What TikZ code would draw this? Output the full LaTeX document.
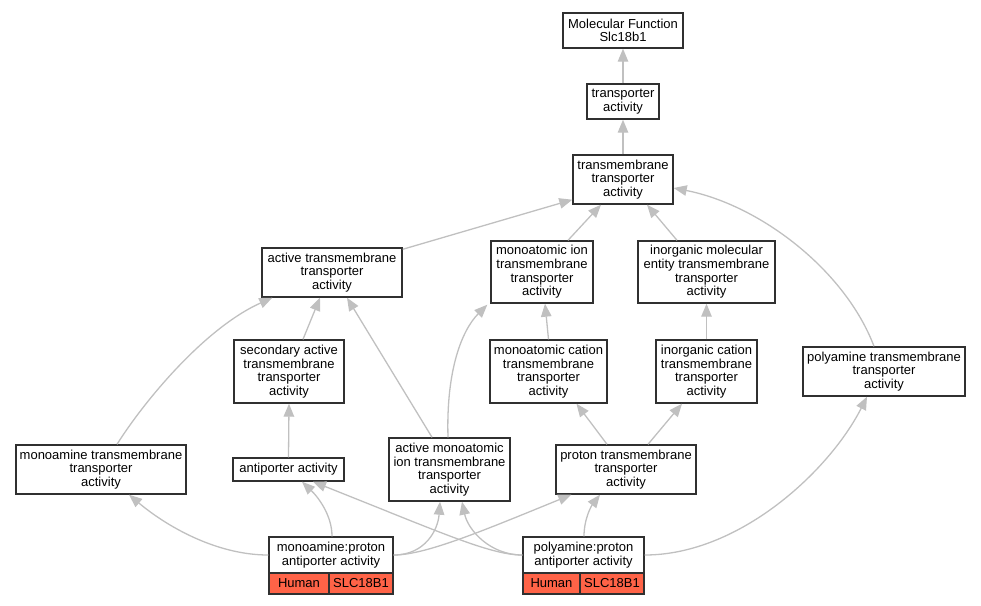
\documentclass[tikz,border=0pt]{standalone}
\usepackage{fontspec}
\setmainfont{Liberation Sans}
\usetikzlibrary{arrows.meta}
\definecolor{edgegray}{HTML}{C0C0C0}
\definecolor{tomatofill}{HTML}{FF6347}
\definecolor{borderdark}{HTML}{303030}
\begin{document}
\begin{tikzpicture}[x=1pt,y=-1pt,
  term/.style={draw=borderdark, line width=1.4pt, fill=white, align=center, inner sep=0pt,
    font=\fontsize{13}{13.6}\selectfont},
  gene/.style={term, fill=tomatofill},
  isa/.style={draw=edgegray, line width=1.3pt, -{Triangle[length=13pt,width=10.5pt]}}]
\useasboundingbox (0,0) rectangle (981,605);

\node[term, minimum width=120, minimum height=35] (mf) at (623,30.5) {Molecular Function\\Slc18b1};
\node[term, minimum width=72, minimum height=35] (tp) at (623,101.5) {transporter\\activity};
\node[term, minimum width=100, minimum height=49] (tm) at (623,179.5) {transmembrane\\transporter\\activity};
\node[term, minimum width=140, minimum height=49] (atm) at (332,272.5) {active transmembrane\\transporter\\activity};
\node[term, minimum width=102, minimum height=62] (mi) at (542,272) {monoatomic ion\\transmembrane\\transporter\\activity};
\node[term, minimum width=137, minimum height=62] (ime) at (706.5,272) {inorganic molecular\\entity transmembrane\\transporter\\activity};
\node[term, minimum width=110, minimum height=63] (sec) at (289,371.5) {secondary active\\transmembrane\\transporter\\activity};
\node[term, minimum width=117, minimum height=63] (mc) at (548.5,371.5) {monoatomic cation\\transmembrane\\transporter\\activity};
\node[term, minimum width=101, minimum height=63] (ic) at (706.5,371.5) {inorganic cation\\transmembrane\\transporter\\activity};
\node[term, minimum width=162, minimum height=49] (pt) at (884,371.5) {polyamine transmembrane\\transporter\\activity};
\node[term, minimum width=170, minimum height=49] (mt) at (101,469.5) {monoamine transmembrane\\transporter\\activity};
\node[term, minimum width=111, minimum height=23] (anti) at (288.5,469.5) {antiporter activity};
\node[term, minimum width=121, minimum height=63] (ami) at (449.5,469.5) {active monoatomic\\ion transmembrane\\transporter\\activity};
\node[term, minimum width=140, minimum height=49] (prt) at (626,469.5) {proton transmembrane\\transporter\\activity};

\node[term, minimum width=124, minimum height=36] (mp) at (331,555) {monoamine:proton\\antiporter activity};
\node[gene, minimum width=60, minimum height=21] (mph) at (299,583.5) {Human};
\node[gene, minimum width=64, minimum height=21] (mps) at (361,583.5) {SLC18B1};
\node[term, minimum width=121, minimum height=36] (pp) at (583.5,555) {polyamine:proton\\antiporter activity};
\node[gene, minimum width=57, minimum height=21] (pph) at (551.5,583.5) {Human};
\node[gene, minimum width=64, minimum height=21] (pps) at (612,583.5) {SLC18B1};

% edges
\draw[isa] (tp.north) -- (mf.south);
\draw[isa] (tm.north) -- (tp.south);
\draw[isa] ([yshift=-2pt]atm.north east) -- ([yshift=5pt]tm.south west);
\draw[isa] ([xshift=26pt]mi.north) -- ([xshift=-22pt]tm.south);
\draw[isa] ([xshift=-29.5pt]ime.north) -- ([xshift=24pt]tm.south);
\draw[isa] ([xshift=-10pt]pt.north) .. controls (845,270) and (760,205) .. ([yshift=-8.5pt]tm.east);
\draw[isa] ([xshift=14pt]sec.north) -- ([xshift=-12pt]atm.south);
\draw[isa] ([xshift=-17.5pt]ami.north) -- ([xshift=15pt]atm.south);
\draw[isa] ([xshift=-1.5pt]ami.north) .. controls (446,370) and (462,330) .. ([xshift=-3pt,yshift=-1pt]mi.south west);
\draw[isa] (mc.north) -- ([xshift=3pt]mi.south);
\draw[isa] (ic.north) -- (ime.south);
\draw[isa] (anti.north) -- (sec.south);
\draw[isa] ([xshift=-19pt]prt.north) -- ([xshift=28pt]mc.south);
\draw[isa] ([xshift=22pt]prt.north) -- ([xshift=-24.5pt]ic.south);
\draw[isa] ([xshift=16pt]mt.north) .. controls (145,400) and (205,328) .. ([xshift=11pt]atm.south west);

\draw[isa] (mp.west) .. controls (215,555) and (165,525) .. ([xshift=28pt]mt.south);
\draw[isa] ([xshift=1pt]mp.north) .. controls (332,515) and (318,497) .. ([xshift=13.5pt]anti.south);
\draw[isa] (mp.east) .. controls (425,555) and (438,530) .. ([xshift=-9.5pt]ami.south);
\draw[isa] (mp.east) .. controls (425,555) and (480,532) .. ([xshift=16pt]prt.south west);
\draw[isa] (pp.west) .. controls (490,555) and (440,532) .. ([xshift=24.5pt]anti.south);
\draw[isa] (pp.west) .. controls (490,555) and (468,530) .. ([xshift=12.5pt]ami.south);
\draw[isa] ([xshift=0.5pt]pp.north) .. controls (584,518) and (592,505) .. ([xshift=-26pt]prt.south);
\draw[isa] (pp.east) .. controls (740,555) and (830,470) .. ([xshift=-17pt]pt.south);
\end{tikzpicture}
\end{document}
